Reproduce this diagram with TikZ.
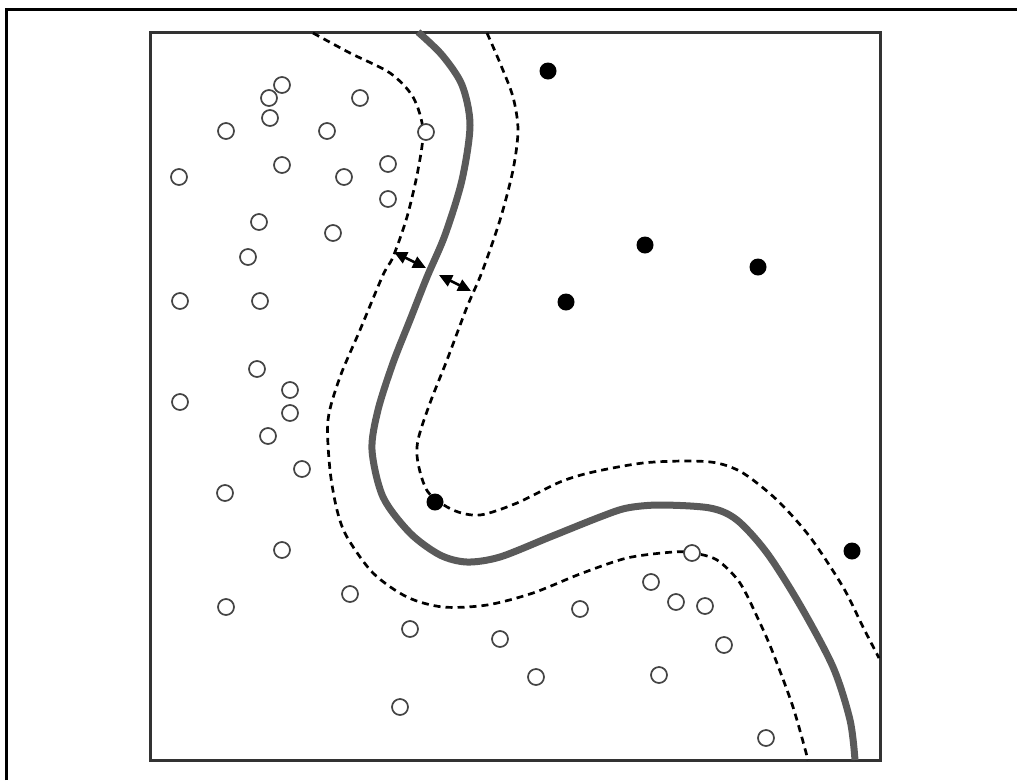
\documentclass[tikz,border=0pt]{standalone}
\usetikzlibrary{arrows.meta}

\definecolor{boundary}{HTML}{5A5A5A}
\definecolor{ring}{HTML}{444444}
\definecolor{framegray}{HTML}{333333}

\tikzset{
  neg/.style = {draw = ring, line width = 1.7pt, circle, fill = white,
                inner sep = 0pt, minimum size = 16pt},
  posdot/.style = {fill = black, circle, inner sep = 0pt, minimum size = 17pt},
  margin/.style = {dash pattern = on 7pt off 5pt, line width = 2.7pt},
  gap/.style = {<->, >={Triangle[length = 13pt, width = 12pt]}, line width = 2.6pt}
}

\begin{document}
\begin{tikzpicture}[x = 1pt, y = -1pt]
    \useasboundingbox (0, 0) rectangle (1017, 780);
    \draw [line width = 3pt] (6, 780) -- (6, 9) -- (1017, 9);
    \draw [framegray, line width = 3pt] (150, 32) rectangle (880, 760);

    % margins
    \draw [margin] plot [smooth] coordinates {
      (313,33) (350,53) (390,73) (413,97) (423,130) (418,170) (407,217)
      (393,257) (383,275) (360,330) (340,377) (328,420) (330,470) (337,510)
      (347,537) (373,573) (407,597) (443,607) (487,605) (533,593) (580,574)
      (627,558) (673,552) (693,553) (717,560) (740,583) (760,623) (773,653)
      (793,707) (808,760)};
    \draw [margin] plot [smooth] coordinates {
      (487,33) (500,63) (513,97) (518,130) (513,170) (500,220) (482,272)
      (467,307) (447,360) (430,403) (418,440) (418,463) (428,492) (453,510)
      (480,515) (517,503) (560,482) (593,472) (643,463) (687,461) (717,463)
      (743,473) (777,500) (810,537) (843,587) (863,627) (879,658)};

    % decision boundary
    \draw [boundary, line width = 7pt] plot [smooth] coordinates {
      (418,32) (442,55) (462,85) (470,125) (462,180) (445,235) (427,277)
      (410,320) (393,363) (378,410) (372,450) (383,497) (410,533) (440,555)
      (467,562) (500,557) (550,537) (600,517) (627,508) (660,505) (710,508)
      (737,520) (767,553) (800,605) (833,667) (850,720) (855,760)};

    \coordinate (g1a) at (394, 252);
    \coordinate (g1b) at (426, 268);
    \coordinate (g2a) at (439, 275);
    \coordinate (g2b) at (471, 291);
    \draw [gap] (g1a) -- (g1b);
    \draw [gap] (g2a) -- (g2b);

    \node (n1)  at (282,  85) [neg] {};
    \node (n2)  at (269,  98) [neg] {};
    \node (n3)  at (360,  98) [neg] {};
    \node (n4)  at (270, 118) [neg] {};
    \node (n5)  at (226, 131) [neg] {};
    \node (n6)  at (327, 131) [neg] {};
    \node (n7)  at (426, 132) [neg] {};
    \node (n8)  at (282, 165) [neg] {};
    \node (n9)  at (388, 164) [neg] {};
    \node (n10) at (179, 177) [neg] {};
    \node (n11) at (344, 177) [neg] {};
    \node (n12) at (388, 199) [neg] {};
    \node (n13) at (259, 222) [neg] {};
    \node (n14) at (333, 233) [neg] {};
    \node (n15) at (248, 257) [neg] {};
    \node (n16) at (180, 301) [neg] {};
    \node (n17) at (260, 301) [neg] {};
    \node (n18) at (257, 369) [neg] {};
    \node (n19) at (290, 390) [neg] {};
    \node (n20) at (180, 402) [neg] {};
    \node (n21) at (290, 413) [neg] {};
    \node (n22) at (268, 436) [neg] {};
    \node (n23) at (302, 469) [neg] {};
    \node (n24) at (225, 493) [neg] {};
    \node (n25) at (282, 550) [neg] {};
    \node (n26) at (350, 594) [neg] {};
    \node (n27) at (226, 607) [neg] {};
    \node (n28) at (410, 629) [neg] {};
    \node (n29) at (500, 639) [neg] {};
    \node (n30) at (536, 677) [neg] {};
    \node (n31) at (400, 707) [neg] {};
    \node (n32) at (580, 609) [neg] {};
    \node (n33) at (651, 582) [neg] {};
    \node (n34) at (676, 602) [neg] {};
    \node (n35) at (705, 606) [neg] {};
    \node (n36) at (692, 553) [neg] {};
    \node (n37) at (724, 645) [neg] {};
    \node (n38) at (659, 675) [neg] {};
    \node (n39) at (766, 738) [neg] {};

    \node (p1) at (548,  71) [posdot] {};
    \node (p2) at (645, 245) [posdot] {};
    \node (p3) at (758, 267) [posdot] {};
    \node (p4) at (566, 302) [posdot] {};
    \node (p5) at (435, 502) [posdot] {};
    \node (p6) at (852, 551) [posdot] {};
  \end{tikzpicture}
\end{document}
